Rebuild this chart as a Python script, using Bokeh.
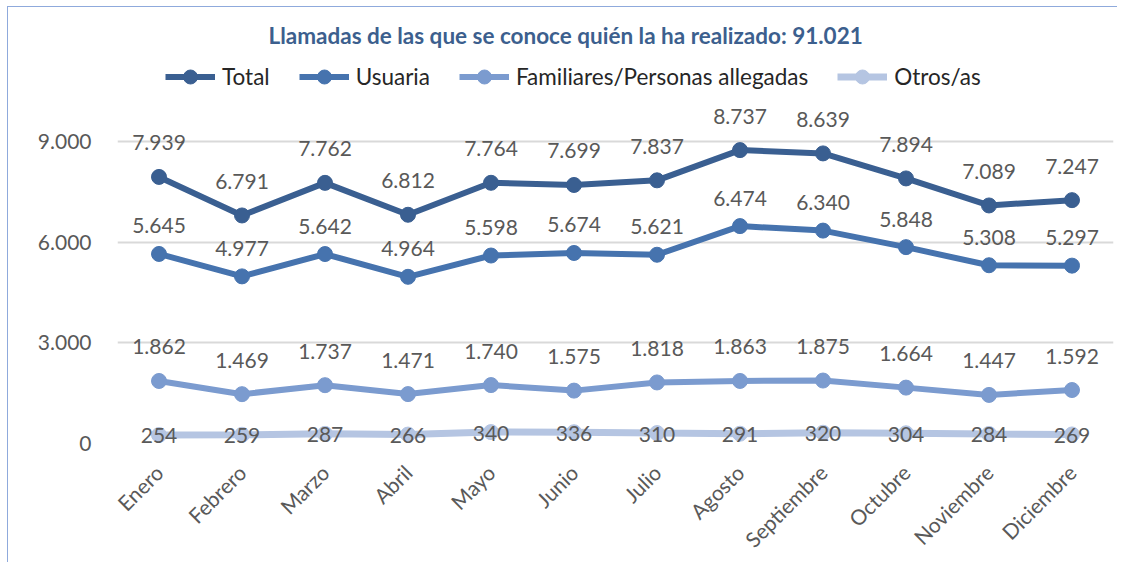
from math import pi
from bokeh.plotting import figure
from bokeh.models import (Range1d, FactorRange, Legend, LegendItem,
                          CustomJSTickFormatter, FixedTicker, ColumnDataSource)
from bokeh.core.properties import value
from bokeh.embed import file_html
from bokeh.resources import INLINE

# ---------------- data ----------------
months = ["Enero", "Febrero", "Marzo", "Abril", "Mayo", "Junio", "Julio",
          "Agosto", "Septiembre", "Octubre", "Noviembre", "Diciembre"]
total = [7939, 6791, 7762, 6812, 7764, 7699, 7837, 8737, 8639, 7894, 7089, 7247]
usuaria = [5645, 4977, 5642, 4964, 5598, 5674, 5621, 6474, 6340, 5848, 5308, 5297]
familiares = [1862, 1469, 1737, 1471, 1740, 1575, 1818, 1863, 1875, 1664, 1447, 1592]
otros = [254, 259, 287, 266, 340, 336, 310, 291, 320, 304, 284, 269]
series_names = ["Total", "Usuaria", "Familiares/Personas allegadas", "Otros/as"]
y_ticks = [0, 3000, 6000, 9000]
title_text = "Llamadas de las que se conoce quién la ha realizado: 91.021"

# ---------------- styles ----------------
colors = ["#3A5F91", "#4673AE", "#7B9BCF", "#B5C5E2"]
label_offsets = [-34, -28, -34, 1]
FONT = "Lato"
MB_LEFT, MB_RIGHT, MB_TOP, MB_BOTTOM = 109, 5, 51, 119
FRAME_W, FRAME_H = 996, 386
PX_PER_UNIT = 303.0 / 9000
W = MB_LEFT + FRAME_W + MB_RIGHT
H = MB_TOP + FRAME_H + MB_BOTTOM
Y_END = FRAME_H / PX_PER_UNIT

p = figure(width=W, height=H, x_range=FactorRange(*months, range_padding=0),
           y_range=Range1d(0, Y_END), output_backend="svg",
           toolbar_location=None,
           min_border_left=MB_LEFT, min_border_right=MB_RIGHT,
           min_border_top=MB_TOP, min_border_bottom=MB_BOTTOM)
p.margin = (6, 0, 0, 7)
p.styles = {"border-left": "1px solid #8FAADC", "border-top": "1px solid #8FAADC"}
p.outline_line_color = None
p.background_fill_color = "white"

p.title.text = title_text
p.title.align = "left"
p.title.offset = 151
p.title.text_font = FONT
p.title.text_font_size = "22.5px"
p.title.text_font_style = "bold"
p.title.text_color = "#3C5F8E"
p.title.standoff = 19

# axes
p.yaxis.ticker = FixedTicker(ticks=y_ticks)
p.yaxis.formatter = CustomJSTickFormatter(
    code="return tick.toString().replace(/\\B(?=(\\d{3})+(?!\\d))/g, '.');")
p.yaxis.axis_line_color = None
p.yaxis.major_tick_line_color = None
p.yaxis.minor_tick_line_color = None
p.yaxis.major_label_standoff = 20
p.yaxis.major_label_text_font = FONT
p.yaxis.major_label_text_font_size = "21px"
p.yaxis.major_label_text_color = "#595959"

p.xaxis.axis_line_color = None
p.xaxis.major_tick_line_color = None
p.xaxis.major_tick_out = 0
p.xaxis.major_label_orientation = pi / 4
p.xaxis.major_label_standoff = 25
p.xaxis.major_label_text_font = FONT
p.xaxis.major_label_text_font_size = "21px"
p.xaxis.major_label_text_color = "#595959"

p.xgrid.grid_line_color = None
p.ygrid.grid_line_color = "#D9D9D9"
p.ygrid.grid_line_width = 2

items = []
for name, vals, col, off in zip(series_names, [total, usuaria, familiares, otros],
                                colors, label_offsets):
    src = ColumnDataSource(dict(m=months, v=vals,
                                lbl=[f"{v:,}".replace(",", ".") for v in vals]))
    lw = 7 if name == "Otros/as" else 6
    r1 = p.line("m", "v", source=src, line_color=col, line_width=lw)
    r2 = p.scatter("m", "v", source=src, size=15, fill_color=col, line_color=col)
    p.text("m", "v", text="lbl", source=src, text_align="center",
           text_baseline="middle", y_offset=off, text_font=value(FONT),
           text_font_size="21px", text_color="#595959")
    items.append(LegendItem(label=name, renderers=[r1, r2]))

legend = Legend(items=items, orientation="horizontal", location=(48, 349),
                padding=0, margin=0, spacing=29, label_standoff=7,
                glyph_width=50, glyph_height=35,
                label_text_font=FONT, label_text_font_size="22.5px",
                label_text_color="#262626", border_line_color=None,
                background_fill_alpha=0)
p.add_layout(legend, "center")

open("out.html", "w").write(file_html(p, INLINE))
